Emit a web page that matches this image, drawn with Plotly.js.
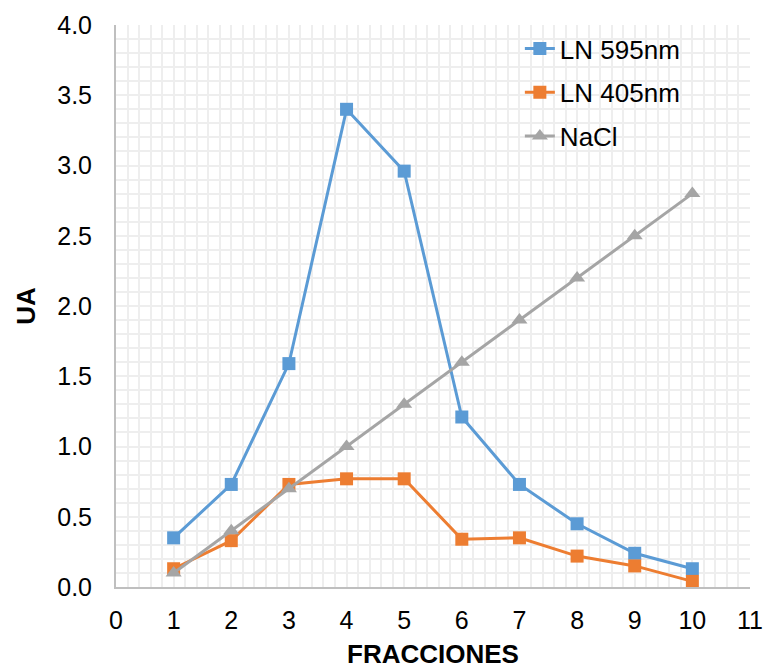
<!DOCTYPE html>
<html>
<head>
<meta charset="utf-8">
<script src="https://cdn.plot.ly/plotly-3.0.1.min.js"></script>
<style>html,body{margin:0;padding:0;background:#fff;}#chart{width:767px;height:669px;}</style>
</head>
<body>
<div id="chart"></div>
<script>
const fracciones = [1, 2, 3, 4, 5, 6, 7, 8, 9, 10];
const ln595 = [0.35, 0.73, 1.59, 3.40, 2.96, 1.21, 0.73, 0.45, 0.24, 0.13];
const ln405 = [0.13, 0.33, 0.73, 0.77, 0.77, 0.34, 0.35, 0.22, 0.15, 0.04];
const nacl = [0.1, 0.4, 0.7, 1.0, 1.3, 1.6, 1.9, 2.2, 2.5, 2.8];
const seriesNames = ['LN 595nm', 'LN 405nm', 'NaCl'];

const gridColor = '#eeeeee';
const font = 'Liberation Sans, Arial, sans-serif';

const traces = [
  {x: fracciones, y: ln595, name: seriesNames[0], legendgroup: 'a', type: 'scatter', mode: 'lines+markers',
   line: {color: '#5B9BD5', width: 3}, marker: {symbol: 'square', size: 13, color: '#5B9BD5'}},
  {x: fracciones, y: ln405, name: seriesNames[1], legendgroup: 'b', type: 'scatter', mode: 'lines+markers',
   line: {color: '#ED7D31', width: 3}, marker: {symbol: 'square', size: 13, color: '#ED7D31'}},
  {x: fracciones, y: nacl, name: seriesNames[2], legendgroup: 'c', type: 'scatter', mode: 'lines+markers',
   line: {color: '#A5A5A5', width: 3}, marker: {symbol: 'triangle-up', size: 14, color: '#A5A5A5'}}
];

const layout = {
  width: 767, height: 669,
  margin: {l: 116, r: 17, t: 25, b: 82},
  paper_bgcolor: '#fff', plot_bgcolor: '#fff',
  font: {family: font, size: 25, color: '#000'},
  showlegend: true,
  legend: {x: 0.637, y: 1.0, xanchor: 'left', yanchor: 'top', bgcolor: 'rgba(0,0,0,0)',
           font: {family: font, size: 26, color: '#000'}, traceorder: 'grouped', tracegroupgap: 7},
  xaxis: {
    range: [0, 11], dtick: 1, tick0: 0, showgrid: true, gridcolor: gridColor, gridwidth: 2,
    minor: {dtick: 0.2, showgrid: true, gridcolor: gridColor, gridwidth: 2},
    zeroline: false, showline: true, linecolor: '#bfbfbf', linewidth: 2, ticks: '',
    ticklabelstandoff: 10,
    tickfont: {family: font, size: 25, color: '#000'},
    title: {text: '<b>FRACCIONES</b>', font: {family: font, size: 26, color: '#000'}, standoff: 15}
  },
  yaxis: {
    range: [0, 4], dtick: 0.5, tick0: 0, tickformat: '.1f', showgrid: true, gridcolor: gridColor, gridwidth: 2,
    minor: {dtick: 0.1, showgrid: true, gridcolor: gridColor, gridwidth: 2},
    zeroline: false, showline: true, linecolor: '#bfbfbf', linewidth: 2, ticks: '',
    ticklabelstandoff: 17,
    tickfont: {family: font, size: 25, color: '#000'},
    title: {text: '<b>UA</b>', font: {family: font, size: 26, color: '#000'}, standoff: 14}
  }
};

Plotly.newPlot('chart', traces, layout, {displayModeBar: false, staticPlot: true});
</script>
</body>
</html>
